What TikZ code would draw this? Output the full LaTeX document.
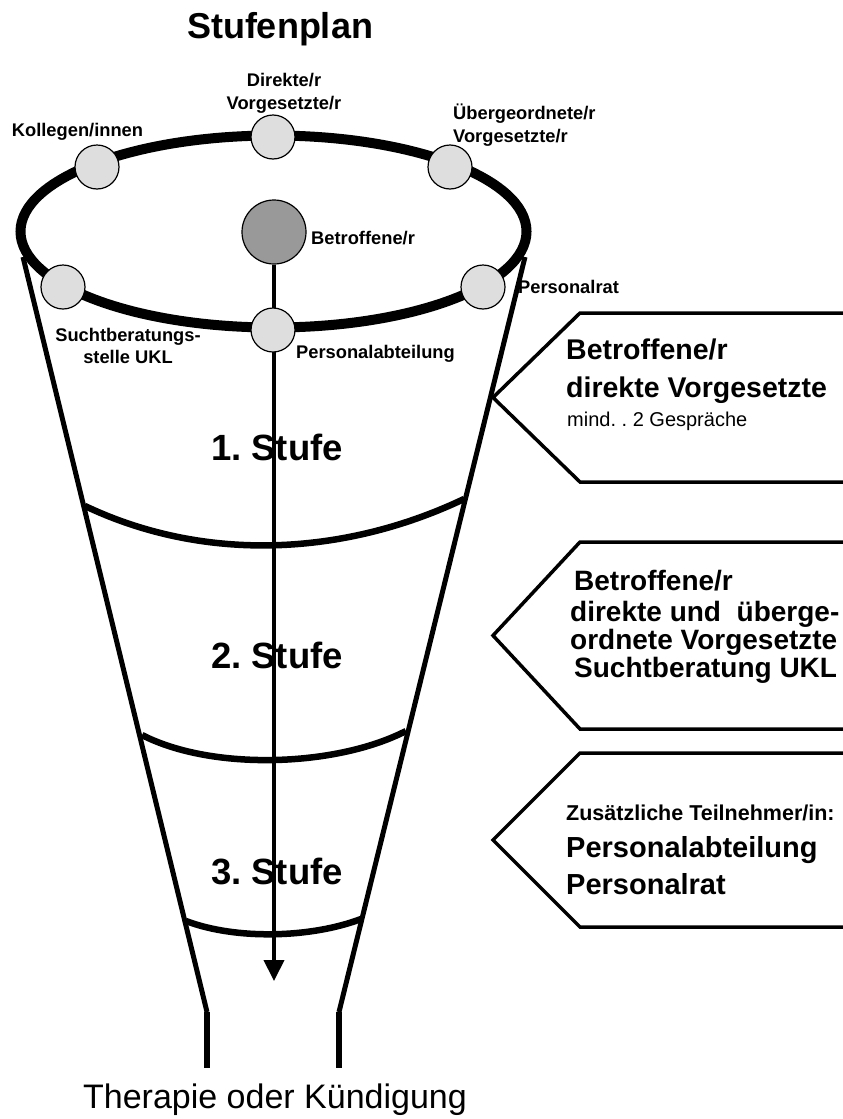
\documentclass[tikz,border=0pt]{standalone}
\usepackage{fontspec}
\setmainfont{Liberation Sans}
\usetikzlibrary{arrows.meta}
\definecolor{ballgray}{gray}{0.87}
\definecolor{selfgray}{gray}{0.6}
\newcommand{\fsz}[2]{\fontsize{#1}{#2}\selectfont}
\frenchspacing
\begin{document}
\begin{tikzpicture}[x=1pt,y=-1pt,
  ball/.style={circle,draw,line width=1.2pt,fill=ballgray,minimum size=44pt,inner sep=0pt},
  lbl/.style={font=\bfseries\fsz{18.3}{23},inner sep=0pt},
  stufe/.style={font=\bfseries\fsz{36.5}{40},inner sep=0pt,anchor=base},
  big/.style={font=\bfseries\fsz{28.5}{30},inner sep=0pt,anchor=base west},
  side/.style={line width=5pt},
  ring/.style={line width=6.5pt},
  sign/.style={line width=3.5pt,line join=miter}]
\useasboundingbox (0,0) rectangle (843,1119);

\node[font=\bfseries\fsz{36}{40},inner sep=0pt,anchor=base] (title) at (280,38) {Stufenplan};

% Trichter
\draw[side] (23,257) -- (207,1012);
\draw[side] (525,257) -- (339,1012);
\draw[line width=6pt] (207,1012) -- (207,1068);
\draw[line width=6pt] (339,1012) -- (339,1068);
\draw[ring] (85,506) .. controls (205,563) and (344,556) .. (464,499);
\draw[ring] (142,735) .. controls (212,771) and (336,767) .. (406,731);
\draw[ring] (186,921) .. controls (236,940) and (311,938) .. (361,919);

% Rand oben
\draw[line width=10pt] (273.5,231.5) ellipse [x radius=253, y radius=96];

\node[circle,draw,line width=1.2pt,fill=selfgray,minimum size=64pt,inner sep=0pt] (betr) at (274,232) {};
\coordinate (ende) at (274,981);
\draw[line width=4pt,-{Triangle[width=20pt,length=21pt]}] (betr) -- (ende);

\node[ball] (koll) at (97,167) {};
\node[ball] (dir) at (273,137) {};
\node[ball] (ueb) at (450,167) {};
\node[ball] (sucht) at (63,287) {};
\node[ball] (prat) at (483,287) {};
\node[ball] (pabt) at (273,330) {};

\node[lbl,align=center] (dirtext) at (284,93.5) {Direkte/r\\Vorgesetzte/r};
\node[lbl,anchor=base] (kolltext) at (77.5,136.5) {Kollegen/innen};
\node[lbl,align=left,anchor=west] (uebtext) at (453,125.5) {Übergeordnete/r\\Vorgesetzte/r};
\node[lbl,anchor=base west] (betrtext) at (311,244.5) {Betroffene/r};
\node[lbl,anchor=base west] (prattext) at (518,293.5) {Personalrat};
\node[lbl,align=center,font=\bfseries\fsz{18.3}{22}] (suchttext) at (128,346) {Suchtberatungs-\\stelle UKL};
\node[lbl,anchor=base west] (pabttext) at (296,358.5) {Personalabteilung};

\node[stufe] (st1) at (277,460) {1. Stufe};
\node[stufe] (st2) at (277,668) {2. Stufe};
\node[stufe] (st3) at (277,884) {3. Stufe};

% Schilder rechts
\foreach \t/\b in {313/482, 542/729, 753/927}
  \draw[sign] (870,\t) -- (580,\t) -- (493,{(\t+\b)/2}) -- (580,\b) -- (870,\b);

\node[big] (s1a) at (566,359) {Betroffene/r};
\node[big] (s1b) at (566,397) {direkte Vorgesetzte};
\node[inner sep=0pt,anchor=base west,font=\fsz{20}{22}] (s1c) at (567,426) {mind. . 2 Gespräche};

\node[big,font=\bfseries\fsz{28}{30}] (s2a) at (574,590) {Betroffene/r};
\node[big,font=\bfseries\fsz{28}{30}] (s2b) at (570,621) {direkte und\ \ überge-};
\node[big,font=\bfseries\fsz{28}{30}] (s2c) at (570,649) {ordnete Vorgesetzte};
\node[big,font=\bfseries\fsz{28}{30}] (s2d) at (574,677) {Suchtberatung UKL};

\node[big,font=\bfseries\fsz{21.5}{24}] (s3a) at (566,820) {Zusätzliche Teilnehmer/in:};
\node[big,font=\bfseries\fsz{29}{30}] (s3b) at (566,857) {Personalabteilung};
\node[big,font=\bfseries\fsz{29}{30}] (s3c) at (566,894) {Personalrat};

\node[inner sep=0pt,anchor=base,font=\fsz{34}{36}] (ziel) at (275,1108) {Therapie oder Kündigung};
\end{tikzpicture}
\end{document}
